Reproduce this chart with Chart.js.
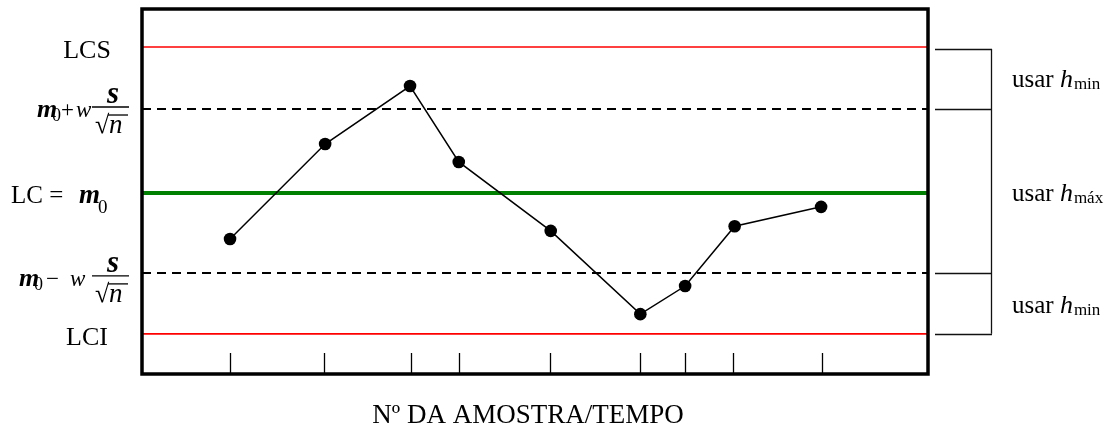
<!DOCTYPE html>
<html>
<head>
<meta charset="utf-8">
<script src="https://cdn.jsdelivr.net/npm/chart.js@4.4.1/dist/chart.umd.min.js"></script>
<style>
html,body{margin:0;padding:0;background:#fff;}
canvas{display:block;}
</style>
</head>
<body>
<canvas id="c" width="1112" height="428"></canvas>
<script>
// ---- data (arbitrary units) ----
const sampleX = [11.2, 23.3, 34.1, 40.3, 52.0, 63.4, 69.1, 75.4, 86.4];
const sampleY = [37.0, 63.0, 78.9, 58.1, 39.2, 16.4, 24.1, 40.5, 45.8];
const tickX   = [11.2, 23.2, 34.2, 40.3, 51.9, 63.4, 69.1, 75.2, 86.5];
const LCS = 89.6;
const UWL = 72.6;   // m0 + w s/sqrt(n)
const LC  = 49.6;
const LWL = 27.7;   // m0 - w s/sqrt(n)
const LCI = 11.0;
const xTitle = 'Nº DA AMOSTRA/TEMPO';
const leftLabels = ['LCS', 'LC = ', 'LCI'];
const rightLabels = [['usar ', 'h', 'min'], ['usar ', 'h', 'máx'], ['usar ', 'h', 'min']];

const SERIF = '"Liberation Serif","Times New Roman",serif';
const hline = (v) => [{x: 0, y: v}, {x: 100, y: v}];

const decor = {
  id: 'decor',
  afterDraw(chart) {
    const ctx = chart.ctx, a = chart.chartArea;
    const xs = chart.scales.x, ys = chart.scales.y;
    ctx.save();
    // ticks rising from the bottom frame
    ctx.strokeStyle = '#000'; ctx.lineWidth = 1.3;
    tickX.forEach(v => {
      const px = Math.round(xs.getPixelForValue(v)) + 0.5;
      ctx.beginPath(); ctx.moveTo(px, a.bottom - 21); ctx.lineTo(px, a.bottom); ctx.stroke();
    });
    // frame
    ctx.lineWidth = 3.5; ctx.strokeStyle = '#000';
    ctx.strokeRect(a.left, a.top, a.right - a.left, a.bottom - a.top);

    const T = (s, x, y, font, align) => {
      ctx.font = font; ctx.textAlign = align || 'left'; ctx.textBaseline = 'alphabetic';
      ctx.fillStyle = '#000'; ctx.fillText(s, x, y);
      return ctx.measureText(s).width;
    };
    const reg = (n) => n + 'px ' + SERIF;
    const it = (n) => 'italic ' + n + 'px ' + SERIF;
    const bi = (n) => 'italic bold ' + n + 'px ' + SERIF;

    const yLCS = ys.getPixelForValue(LCS), yUW = ys.getPixelForValue(UWL);
    const yLC = ys.getPixelForValue(LC), yLW = ys.getPixelForValue(LWL), yLCI = ys.getPixelForValue(LCI);

    // left labels
    T(leftLabels[0], 87, yLCS + 11, reg(26), 'center');
    T(leftLabels[2], 87, yLCI + 11, reg(26), 'center');
    T(leftLabels[1], 11, yLC + 10, reg(25));
    T('m', 79, yLC + 10, bi(27));
    T('0', 98, yLC + 20, reg(19));

    const formula = (x0, sign, signX, wX, base) => {
      T('m', x0, base, bi(26));
      T('0', x0 + 15, base + 4, reg(18));
      T(sign, signX, base, reg(23));
      T('w', wX, base, it(23));
      ctx.lineWidth = 1.3; ctx.strokeStyle = '#000';
      ctx.beginPath(); ctx.moveTo(92, base - 10); ctx.lineTo(129, base - 10); ctx.stroke();
      T('s', 113, base - 14, bi(31), 'center');
      T('√', 95, base + 16, reg(26));
      T('n', 109, base + 16, it(27));
      ctx.beginPath(); ctx.moveTo(108, base - 2); ctx.lineTo(128, base - 2); ctx.stroke();
    };
    formula(37, '+', 61, 76, yUW + 8);
    formula(19, '−', 46, 70, yLW + 13);

    // right bracket
    ctx.lineWidth = 1.3; ctx.strokeStyle = '#111';
    const bx0 = a.right + 7, bx1 = a.right + 64;
    [yLCS + 2, yUW, yLW, yLCI].forEach(py => {
      const p = Math.round(py) + 0.5;
      ctx.beginPath(); ctx.moveTo(bx0, p); ctx.lineTo(bx1, p); ctx.stroke();
    });
    ctx.beginPath(); ctx.moveTo(bx1 - 0.5, yLCS + 2); ctx.lineTo(bx1 - 0.5, yLCI); ctx.stroke();

    const rl = (lab, base) => {
      let x = 1012;
      x += T(lab[0], x, base, reg(25));
      x += T(lab[1], x, base, it(26));
      T(lab[2], x + 1, base + 2, reg(17));
    };
    rl(rightLabels[0], (yLCS + yUW) / 2 + 9);
    rl(rightLabels[1], yLC + 8);
    rl(rightLabels[2], (yLW + yLCI) / 2 + 10);

    // axis title
    T(xTitle, 528, a.bottom + 49, reg(27), 'center');
    ctx.restore();
  }
};

new Chart(document.getElementById('c'), {
  type: 'line',
  data: {
    datasets: [
      { data: sampleX.map((x, i) => ({x, y: sampleY[i]})), borderColor: '#000', borderWidth: 1.5,
        pointRadius: 6.3, pointBackgroundColor: '#000', pointBorderWidth: 0, order: 0 },
      { data: hline(LCS), borderColor: '#ff0000', borderWidth: 1.6, pointRadius: 0, order: 2 },
      { data: hline(UWL), borderColor: '#000', borderWidth: 2, borderDash: [9, 6], pointRadius: 0, order: 2 },
      { data: hline(LC),  borderColor: '#008000', borderWidth: 4, pointRadius: 0, order: 1 },
      { data: hline(LWL), borderColor: '#000', borderWidth: 2, borderDash: [9, 6], pointRadius: 0, order: 2 },
      { data: hline(LCI), borderColor: '#ff0000', borderWidth: 1.6, pointRadius: 0, order: 2 }
    ]
  },
  options: {
    responsive: false,
    animation: false,
    layout: { padding: { left: 142, right: 184, top: 9, bottom: 54 } },
    scales: {
      x: { type: 'linear', min: 0, max: 100, display: false },
      y: { type: 'linear', min: 0, max: 100, display: false }
    },
    plugins: { legend: { display: false }, tooltip: { enabled: false } }
  },
  plugins: [decor]
});
</script>
</body>
</html>
